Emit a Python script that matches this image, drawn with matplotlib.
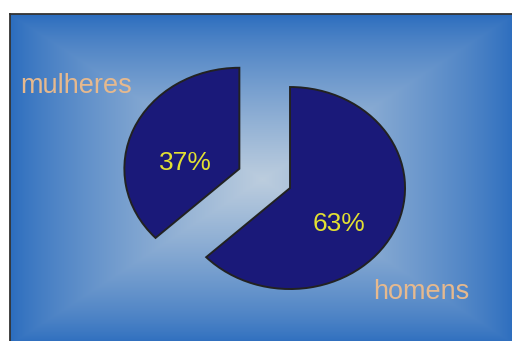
import numpy as np
from matplotlib import pyplot as plt

# dados
categorias = ['homens', 'mulheres']
valores = [63, 37]

# posizioni delle etichette (coordinate della torta)
pos_perc = [(0.646, -0.451), (-0.693, 0.148)]
pos_nomi = [(0.940, -1.197), (-2.127, 0.850)]

W, H = 512, 341
fig = plt.figure(figsize=(W / 100, H / 100), dpi=100)
fig.patch.set_facecolor('white')

# --- sfondo con gradiente rettangolare ---
fx0, fy0, fx1, fy1 = 10, 14, 515, 345
bg = fig.add_axes([fx0 / W, (H - fy1) / H, (fx1 - fx0) / W, (fy1 - fy0) / H])
nx, ny = fx1 - fx0, fy1 - fy0
xx, yy = np.meshgrid(np.linspace(-1, 1, nx), np.linspace(-1, 1, ny))
t = np.maximum(np.abs(xx), np.abs(yy))
peso = (1 - t) ** 0.8
bordo = np.array([42, 108, 190]) / 255
centro = np.array([188, 205, 222]) / 255
img = bordo[None, None, :] * (1 - peso[..., None]) + centro[None, None, :] * peso[..., None]
bg.imshow(img, extent=(0, 1, 0, 1), aspect='auto', interpolation='bilinear')
bg.set_xticks([])
bg.set_yticks([])
for s in bg.spines.values():
    s.set_color('#333333')
    s.set_linewidth(1.3)

# --- torta ---
ax = fig.add_axes([0, 0, 1, 1])
ax.patch.set_alpha(0)
cx, cy, rx, ry = 264.7, 178.4, 115, 101
wedges, _ = ax.pie(valores, startangle=90, counterclock=False,
                   explode=[0.24, 0.24], colors=['#1a1979', '#1a1979'],
                   wedgeprops=dict(edgecolor='#222222', linewidth=1.4))
ax.set_aspect('auto')
ax.set_xlim(-cx / rx, (W - cx) / rx)
ax.set_ylim((cy - H) / ry, cy / ry)
ax.axis('off')

font = ['Liberation Sans', 'DejaVu Sans']
for v, (x, y) in zip(valores, pos_perc):
    ax.text(x, y, f"{v}%", ha='center', va='center', fontsize=19,
            color='#e2e032', family=font)
for nome, (x, y) in zip(categorias, pos_nomi):
    ax.text(x, y, nome, ha='left', va='baseline', fontsize=19.5,
            color='#e6b98e', family=font)

plt.savefig('out.png', dpi=100)
